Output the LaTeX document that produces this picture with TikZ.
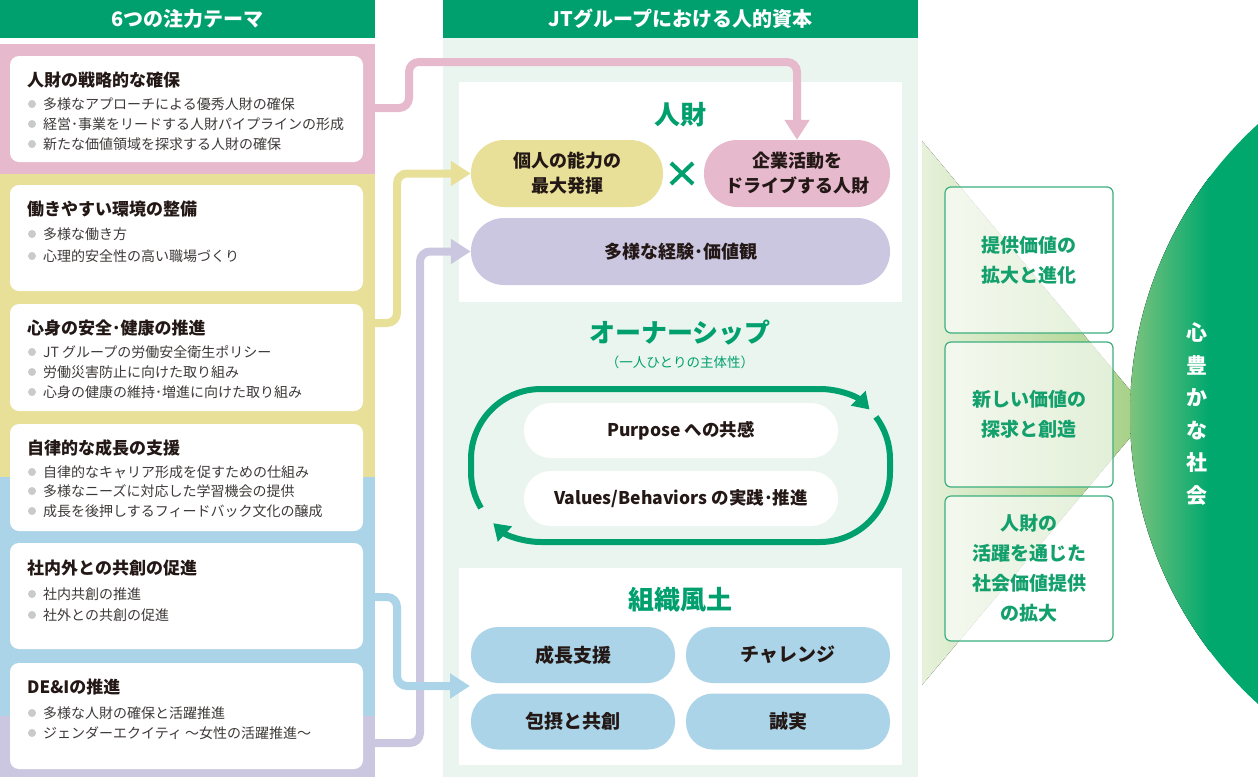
\documentclass[tikz,border=0pt]{standalone}
\usepackage{fontspec}
\setmainfont{Noto Sans CJK JP}
\usetikzlibrary{arrows.meta}
\definecolor{jtgreen}{HTML}{00A06E}
\definecolor{pinkc}{HTML}{E6B9CD}
\definecolor{yelc}{HTML}{E8E098}
\definecolor{bluec}{HTML}{ABD4E8}
\definecolor{lavc}{HTML}{CCC7E1}
\definecolor{midbg}{HTML}{EBF5EF}
\definecolor{darktxt}{HTML}{231815}
\definecolor{graytxt}{HTML}{3E3A39}
\definecolor{dotc}{HTML}{C9CACA}
\definecolor{trilight}{HTML}{E6F1DA}
\definecolor{trigreen}{HTML}{A3CE82}
\definecolor{boxline}{HTML}{3DAE7E}
\definecolor{boxtxt}{HTML}{13A06C}
\definecolor{clight}{HTML}{80C47E}
\definecolor{cgreen}{HTML}{00A86E}
\newcommand\fs[2]{\fontsize{#1}{#2}\selectfont}
\newcommand\bitem[3]{\node[bdot] (#1d) at (32,#2) {}; \node[btxt] (#1) at (43,#2) {#3};}
\begin{document}
\begin{tikzpicture}[x=1pt,y=-1pt,
 themebox/.style={fill=white, rounded corners=9pt, inner sep=0pt, outer sep=0pt, minimum width=353pt},
 ttl/.style={anchor=west, inner sep=0pt, text=darktxt, font=\bfseries\fs{17}{20}},
 btxt/.style={anchor=west, inner sep=0pt, text=graytxt, font=\fs{14}{16}},
 bdot/.style={circle, fill=dotc, inner sep=0pt, minimum size=8pt},
 hdr/.style={text=white, font=\bfseries\fs{20}{24}},
 pill/.style={inner sep=0pt, align=center, text=darktxt, font=\bfseries\fs{18}{25}},
 conn/.style={line width=8pt, rounded corners=10pt, -{Triangle[length=20pt,width=24pt]}},
 loopline/.style={line width=6pt, draw=jtgreen, -{Triangle[length=16pt,width=20pt]}},
 sectitle/.style={text=jtgreen, font=\bfseries\fs{26}{30}},
 valbox/.style={draw=boxline, line width=1.2pt, fill=white, fill opacity=0.65, text opacity=1, rounded corners=6pt, text=boxtxt, align=center, font=\bfseries\fs{19}{30}, minimum width=168pt, inner sep=0pt},
]
\useasboundingbox (0,0) rectangle (1258,777);

% ---------- left column ----------
\fill[jtgreen] (0,0) rectangle (375,38);
\node[hdr] (lhead) at (187.5,19) {6つの注力テーマ};
\fill[pinkc] (0,44) rectangle (375,174);
\fill[yelc] (0,174) rectangle (375,477);
\fill[bluec] (0,477) rectangle (375,716);
\fill[lavc] (0,716) rectangle (375,777);

\node[themebox, minimum height=106pt] (box1) at (186.5,109) {};
\node[ttl] (t1) at (27,80) {人財の戦略的な確保};
\bitem{a1}{104}{多様なアプローチによる優秀人財の確保}
\bitem{a2}{124}{経営･事業をリードする人財パイプラインの形成}
\bitem{a3}{144}{新たな価値領域を探求する人財の確保}

\node[themebox, minimum height=106pt] (box2) at (186.5,238) {};
\node[ttl] (t2) at (27,209) {働きやすい環境の整備};
\bitem{b1}{234}{多様な働き方}
\bitem{b2}{256}{心理的安全性の高い職場づくり}

\node[themebox, minimum height=107pt] (box3) at (186.5,357.5) {};
\node[ttl] (t3) at (27,328) {心身の安全･健康の推進};
\bitem{c1}{352}{JT グループの労働安全衛生ポリシー}
\bitem{c2}{372}{労働災害防止に向けた取り組み}
\bitem{c3}{392}{心身の健康の維持･増進に向けた取り組み}

\node[themebox, minimum height=107pt] (box4) at (186.5,477.5) {};
\node[ttl] (t4) at (27,448) {自律的な成長の支援};
\bitem{d1}{472}{自律的なキャリア形成を促すための仕組み}
\bitem{d2}{491}{多様なニーズに対応した学習機会の提供}
\bitem{d3}{511}{成長を後押しするフィードバック文化の醸成}

\node[themebox, minimum height=106pt] (box5) at (186.5,596) {};
\node[ttl] (t5) at (27,568) {社内外との共創の促進};
\bitem{e1}{594}{社内共創の推進}
\bitem{e2}{615}{社外との共創の促進}

\node[themebox, minimum height=106pt] (box6) at (186.5,716) {};
\node[ttl] (t6) at (27,687) {DE\&Iの推進};
\bitem{f1}{713}{多様な人財の確保と活躍推進}
\bitem{f2}{733}{ジェンダーエクイティ 〜女性の活躍推進〜}

% ---------- middle column ----------
\fill[midbg] (443,38) rectangle (918,777);
\fill[jtgreen] (443,0) rectangle (918,38);
\node[hdr] (mhead) at (680.5,19) {JTグループにおける人的資本};
\fill[white] (459,82) rectangle (902,302);
\fill[white] (459,568) rectangle (902,765);

\node[sectitle] (jinzai) at (680,115) {人財};
\node[pill, fill=yelc, rounded corners=33pt, minimum width=192pt, minimum height=67pt] (yp) at (567,173.5) {個人の能力の\\最大発揮};
\node[pill, fill=pinkc, rounded corners=33pt, minimum width=186pt, minimum height=67pt] (pp) at (797,173.5) {企業活動を\\ドライブする人財};
\node[pill, fill=lavc, rounded corners=33pt, minimum width=419pt, minimum height=67pt] (lp) at (680.5,251.5) {多様な経験･価値観};
\draw[jtgreen, line width=4pt] (671,163) -- (693,184) (693,163) -- (671,184);

\node[sectitle] (owner) at (680,333) {オーナーシップ};
\node[text=jtgreen, font=\fs{13.5}{16}] (ownsub) at (680,362) {（一人ひとりの主体性）};
\node[pill, fill=white, rounded corners=27pt, minimum width=314pt, minimum height=55pt, font=\bfseries\fs{17.5}{20}] (pur) at (681,430.5) {Purpose への共感};
\node[pill, fill=white, rounded corners=27pt, minimum width=314pt, minimum height=55pt, font=\bfseries\fs{17.5}{20}] (val) at (681,498.5) {Values/Behaviors の実践･推進};
\draw[loopline] (481,508.05) arc[start angle=149,end angle=180,radius=70] -- (471,459) arc[start angle=180,end angle=270,radius=70] -- (820,389) arc[start angle=270,end angle=315,radius=70];
\draw[loopline] (875.9,416.9) arc[start angle=323,end angle=360,radius=70] -- (890,472) arc[start angle=0,end angle=90,radius=70] -- (541,542) arc[start angle=90,end angle=133,radius=70];

\node[sectitle] (soshiki) at (680,600) {組織風土};
\node[pill, fill=bluec, rounded corners=27pt, minimum width=204pt, minimum height=56pt, font=\bfseries\fs{19}{22}] (o1) at (573,655) {成長支援};
\node[pill, fill=bluec, rounded corners=27pt, minimum width=204pt, minimum height=56pt, font=\bfseries\fs{19}{22}] (o2) at (788,655) {チャレンジ};
\node[pill, fill=bluec, rounded corners=27pt, minimum width=204pt, minimum height=56pt, font=\bfseries\fs{19}{22}] (o3) at (573,721.5) {包摂と共創};
\node[pill, fill=bluec, rounded corners=27pt, minimum width=204pt, minimum height=56pt, font=\bfseries\fs{19}{22}] (o4) at (788,721.5) {誠実};

% ---------- connectors ----------
\coordinate (pinkout) at (375,108);
\coordinate (yelout) at (375,323);
\coordinate (blueout) at (375,597);
\coordinate (lavout) at (375,743);
\coordinate (orgin) at (470,686);
\draw[conn, draw=pinkc] (pinkout) -- (409,108) -- (409,62) -- (797,62) -- (pp.north);
\draw[conn, draw=yelc] (yelout) -- (397,323) -- (397,173.5) -- (yp.west);
\draw[conn, draw=lavc] (lavout) -- (420,743) -- (420,251.5) -- (lp.west);
\draw[conn, draw=bluec] (blueout) -- (397,597) -- (397,686) -- (orgin);

% ---------- right side ----------
\fill[left color=trilight, right color=trigreen] (922,141) -- (1150,414) -- (922,685) -- cycle;
\begin{scope}
\clip (0,0) rectangle (1258,777);
\clip (1522.5,414) circle[radius=392.5];
\fill[cgreen] (1100,0) rectangle (1258,777);
\fill[left color=clight, right color=cgreen] (1128,0) rectangle (1210,777);
\end{scope}
\node[text=white, font=\bfseries\fs{21}{32.5}, align=center] (soc) at (1197,414) {心\\豊\\か\\な\\社\\会};

\node[valbox, minimum height=146pt] (v1) at (1029,260) {提供価値の\\拡大と進化};
\node[valbox, minimum height=145pt] (v2) at (1029,414.5) {新しい価値の\\探求と創造};
\node[valbox, minimum height=145pt] (v3) at (1029,568.5) {人財の\\活躍を通じた\\社会価値提供\\の拡大};
\end{tikzpicture}
\end{document}
